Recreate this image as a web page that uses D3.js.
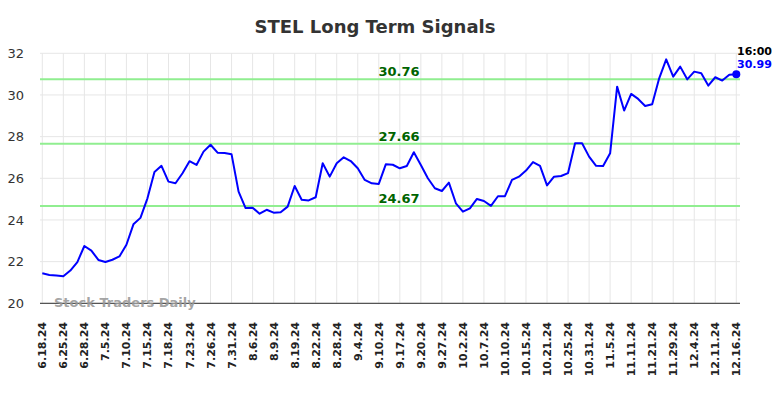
<!DOCTYPE html>
<html><head><meta charset="utf-8">
<script src="https://cdn.jsdelivr.net/npm/d3@7"></script>
<style>body{margin:0;background:#fff;}svg{display:block;font-family:"DejaVu Sans",sans-serif;}</style>
</head><body>
<svg id="c" width="784" height="398"></svg>
<script>
const tickLabels = ["6.18.24","6.25.24","6.28.24","7.5.24","7.10.24","7.15.24","7.18.24","7.23.24","7.26.24","7.31.24","8.6.24","8.9.24","8.19.24","8.22.24","8.28.24","9.4.24","9.10.24","9.17.24","9.20.24","9.27.24","10.2.24","10.7.24","10.10.24","10.15.24","10.21.24","10.25.24","10.31.24","11.5.24","11.11.24","11.21.24","11.29.24","12.4.24","12.11.24","12.16.24"];
const prices = [21.44,21.36,21.33,21.30,21.57,21.98,22.75,22.53,22.08,21.98,
22.09,22.25,22.81,23.79,24.10,25.04,26.30,26.60,25.84,25.76,
26.24,26.82,26.64,27.28,27.61,27.23,27.21,27.15,25.36,24.57,
24.59,24.30,24.49,24.35,24.37,24.64,25.63,24.97,24.94,25.09,
26.72,26.08,26.72,27.01,26.83,26.48,25.92,25.76,25.73,26.67,
26.65,26.48,26.59,27.25,26.64,26.00,25.52,25.39,25.79,24.80,
24.40,24.56,25.01,24.91,24.68,25.14,25.14,25.92,26.08,26.37,
26.78,26.60,25.66,26.08,26.11,26.25,27.68,27.68,27.04,26.60,
26.59,27.20,30.40,29.25,30.05,29.81,29.47,29.55,30.80,31.71,
30.88,31.36,30.75,31.12,31.04,30.45,30.85,30.69,30.97,30.99];
const signalLevels = [30.76, 27.66, 24.67];
const yTicks = [20,22,24,26,28,30,32];
const title = "STEL Long Term Signals";
const lastTime = "16:00";

const svg = d3.select("#c");
const x = d3.scaleLinear().domain([0, prices.length-1]).range([42.3, 736.3]);
const y = d3.scaleLinear().domain([20, 32]).range([303.3, 53.3]);
const left = 40, right = 740;

svg.append("text").attr("x",375).attr("y",33).attr("text-anchor","middle")
  .attr("font-size",18).attr("font-weight","bold").attr("fill","#333").text(title);

// horizontal grid
svg.append("g").selectAll("line").data(yTicks).join("line")
  .attr("x1",left).attr("x2",right).attr("y1",d=>y(d)).attr("y2",d=>y(d))
  .attr("stroke","#e6e6e6").attr("stroke-width",1);
// vertical grid
const tickIdx = tickLabels.map((_,i)=>i*3);
svg.append("g").selectAll("line").data(tickIdx).join("line")
  .attr("x1",d=>x(d)).attr("x2",d=>x(d)).attr("y1",y(32)).attr("y2",y(20))
  .attr("stroke","#e6e6e6").attr("stroke-width",1);

// y labels
svg.append("g").selectAll("text").data(yTicks).join("text")
  .attr("x",24).attr("y",d=>y(d)).attr("dy","0.35em").attr("text-anchor","end")
  .attr("font-size",13).attr("fill","#333").text(d=>d);

// x labels
svg.append("g").selectAll("text").data(tickIdx).join("text")
  .attr("transform",d=>`translate(${x(d)+4},322) rotate(-90)`)
  .attr("text-anchor","end").attr("font-size",11).attr("font-weight","bold").attr("fill","#222")
  .text((d,i)=>tickLabels[i]);

// signal lines
svg.append("g").selectAll("line").data(signalLevels).join("line")
  .attr("x1",left).attr("x2",right).attr("y1",d=>y(d)).attr("y2",d=>y(d))
  .attr("stroke","#90ee90").attr("stroke-width",2);
svg.append("g").selectAll("text").data(signalLevels).join("text")
  .attr("x",399).attr("y",d=>y(d)-3).attr("text-anchor","middle")
  .attr("font-size",13).attr("font-weight","bold").attr("fill","#006400").text(d=>d.toFixed(2));

// axis base line
svg.append("line").attr("x1",left).attr("x2",right).attr("y1",y(20)).attr("y2",y(20))
  .attr("stroke","#555").attr("stroke-width",1.2);

// watermark
svg.append("text").attr("x",54).attr("y",307).attr("font-size",13).attr("font-weight","bold")
  .attr("fill","#999").attr("fill-opacity",0.9).text("Stock Traders Daily");

// price line
svg.append("path").datum(prices)
  .attr("d", d3.line().x((d,i)=>x(i)).y(d=>y(d)))
  .attr("fill","none").attr("stroke","#0000ff").attr("stroke-width",2).attr("stroke-linejoin","round");

const li = prices.length-1;
svg.append("circle").attr("cx",x(li)).attr("cy",y(prices[li])).attr("r",4).attr("fill","#0000ff");
svg.append("text").attr("x",737).attr("y",55).attr("font-size",11).attr("font-weight","bold")
  .attr("fill","#000").text(lastTime);
svg.append("text").attr("x",737).attr("y",68).attr("font-size",11).attr("font-weight","bold")
  .attr("fill","#0000ff").text(prices[li].toFixed(2));
</script>
</body></html>
